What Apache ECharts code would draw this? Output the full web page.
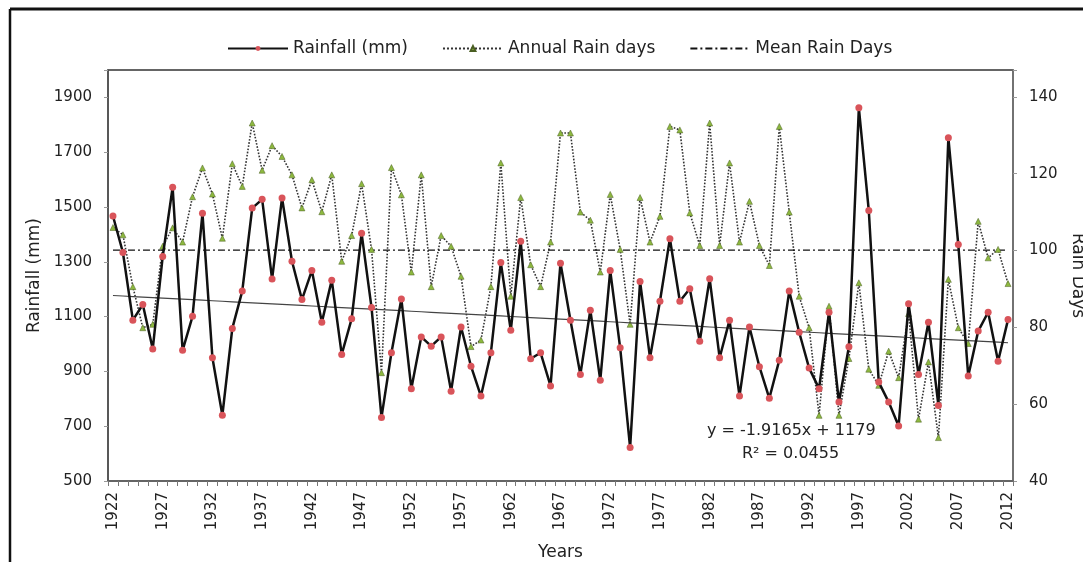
<!DOCTYPE html>
<html>
<head>
<meta charset="utf-8">
<script src="https://cdn.jsdelivr.net/npm/echarts@6/dist/echarts.min.js"></script>
<style>
  html, body { margin: 0; padding: 0; background: #fff; }
  #chart { width: 1083px; height: 562px; }
</style>
</head>
<body>
<div id="chart"></div>
<script>
// years 1922 .. 2012
const years = [];
for (let y = 1922; y <= 2012; y++) years.push(String(y));

// annual rainfall (mm)
const rainfall = [
  1467, 1334, 1087, 1144, 982, 1319, 1572, 977, 1101, 1477,
  950, 740, 1057, 1193, 1496, 1528, 1237, 1533, 1302, 1162,
  1268, 1079, 1233, 962, 1092, 1404, 1133, 732, 968, 1164,
  837, 1026, 992, 1026, 828, 1062, 919, 810, 968, 1297,
  1050, 1375, 946, 968, 847, 1295, 1087, 889, 1123, 868,
  1268, 986, 622, 1228, 950, 1156, 1384, 1156, 1202, 1010,
  1238, 950, 1087, 810, 1062, 917, 802, 941, 1193, 1043,
  912, 837, 1116, 788, 990, 1862, 1487, 861, 788, 701,
  1147, 889, 1079, 776, 1753, 1363, 883, 1047, 1116, 937,
  1089
];

// annual rain days
const rainDays = [
  106, 104.1, 90.6, 79.9, 80.8, 101.1, 105.9, 102.2, 114, 121.5,
  114.7, 103.2, 122.6, 116.7, 133.2, 120.9, 127.3, 124.5, 119.7, 111.1,
  118.4, 110.1, 119.7, 97.2, 103.9, 117.4, 100.3, 68.2, 121.6, 114.5,
  94.4, 119.7, 90.6, 103.9, 101.1, 93.3, 75, 76.7, 90.6, 122.8,
  88.1, 113.8, 96.3, 90.6, 102.2, 130.6, 130.6, 110, 107.9, 94.4,
  114.6, 100.3, 80.8, 113.8, 102.2, 108.9, 132.3, 131.4, 109.8, 101.3,
  133.2, 101.3, 122.8, 102.2, 112.8, 101.3, 96.1, 132.3, 110, 88.1,
  79.9, 57.1, 85.5, 57.1, 71.9, 91.6, 69.1, 64.9, 73.8, 66.9,
  83.6, 56.1, 71, 51.3, 92.5, 79.9, 75.8, 107.6, 98.1, 100.3,
  91.4
];

const meanRainDays = 100.1;

// linear trend shown on the chart
const trendSlope = -1.9165;
const trendIntercept = 1179;

const leftTicks = [500, 700, 900, 1100, 1300, 1500, 1700, 1900];
const rightTicks = [40, 60, 80, 100, 120, 140];

const font = "DejaVu Sans";
const chart = echarts.init(document.getElementById("chart"));

const option = {
  animation: false,
  textStyle: { fontFamily: font },
  grid: {
    left: 108,
    right: 70,
    top: 70,
    bottom: 81,
    outerBoundsMode: "none",
    containLabel: false,
    show: true,
    borderColor: "#333",
    borderWidth: 1.5,
  },
  legend: {
    left: 222,
    top: 35,
    itemWidth: 60,
    itemHeight: 6,
    itemGap: 34,
    textStyle: { fontSize: 17, color: "#222", fontFamily: font },
    data: [
      "Rainfall (mm)",
      "Annual Rain days",
      { name: "Mean Rain Days", itemStyle: { opacity: 0 } },
    ],
  },
  xAxis: {
    type: "category",
    data: years,
    boundaryGap: true,
    name: "Years",
    nameLocation: "middle",
    nameGap: 63,
    nameTextStyle: { fontSize: 17, color: "#222" },
    axisLine: { lineStyle: { color: "#666", width: 1.5 } },
    axisTick: { show: true, interval: 0, length: 5, lineStyle: { color: "#777" } },
    axisLabel: {
      interval: 4,
      rotate: 90,
      fontSize: 15,
      color: "#222",
      margin: 11,
    },
  },
  yAxis: [
    {
      type: "value",
      min: 500,
      max: 2000,
      interval: 200,
      name: "Rainfall (mm)",
      nameLocation: "middle",
      nameGap: 62,
      nameTextStyle: { fontSize: 17, color: "#222" },
      splitLine: { show: false },
      axisLine: { show: true, lineStyle: { color: "#555", width: 1.5 } },
      axisTick: { show: true, length: 4, lineStyle: { color: "#999" } },
      axisLabel: {
        fontSize: 15,
        color: "#222",
        margin: 16,
        formatter: (v) => (leftTicks.includes(v) ? String(v) : ""),
      },
    },
    {
      type: "value",
      min: 40,
      max: 147,
      interval: 20,
      name: "Rain Days",
      nameLocation: "middle",
      nameRotate: -90,
      nameGap: 55,
      nameTextStyle: { fontSize: 17, color: "#222" },
      splitLine: { show: false },
      axisLine: { show: true, lineStyle: { color: "#777", width: 1.5 } },
      axisTick: { show: true, length: 4, lineStyle: { color: "#999" } },
      axisLabel: {
        fontSize: 15,
        color: "#222",
        margin: 16,
        formatter: (v) => (rightTicks.includes(v) ? String(v) : ""),
      },
    },
  ],
  series: [
    {
      name: "Annual Rain days",
      type: "line",
      yAxisIndex: 1,
      data: rainDays,
      symbol: "triangle",
      symbolSize: 6,
      showAllSymbol: true,
      lineStyle: { color: "#333", width: 1.6, type: "dotted" },
      itemStyle: { color: "#8db83f", borderColor: "#4a5e22", borderWidth: 0.5 },
      z: 2,
    },
    {
      name: "Mean Rain Days",
      type: "line",
      yAxisIndex: 1,
      data: years.map(() => meanRainDays),
      symbol: "none",
      lineStyle: { color: "#111", width: 1.3, type: [7, 3, 2, 3] },
      itemStyle: { color: "#111" },
      z: 2,
    },
    {
      name: "Trend",
      type: "line",
      yAxisIndex: 0,
      data: years.map((_, i) => trendSlope * (i + 1) + trendIntercept),
      symbol: "none",
      lineStyle: { color: "#444", width: 1.2 },
      z: 3,
    },
    {
      name: "Rainfall (mm)",
      type: "line",
      yAxisIndex: 0,
      data: rainfall,
      symbol: "circle",
      symbolSize: 7,
      showAllSymbol: true,
      lineStyle: { color: "#111", width: 2.5 },
      itemStyle: { color: "#d9545a" },
      z: 4,
    },
  ],
  graphic: [
    // outer frame (top and left edges)
    { type: "line", shape: { x1: 10, y1: 9, x2: 1083, y2: 9 }, style: { stroke: "#111", lineWidth: 3 } },
    { type: "line", shape: { x1: 10, y1: 9, x2: 10, y2: 562 }, style: { stroke: "#111", lineWidth: 2.5 } },
    {
      type: "text",
      left: 707,
      top: 423,
      style: {
        text: "y = -1.9165x + 1179",
        font: "16px " + font,
        fill: "#222",
      },
    },
    {
      type: "text",
      left: 742,
      top: 446,
      style: {
        text: "R² = 0.0455",
        font: "16px " + font,
        fill: "#222",
      },
    },
  ],
};

chart.setOption(option);
</script>
</body>
</html>
